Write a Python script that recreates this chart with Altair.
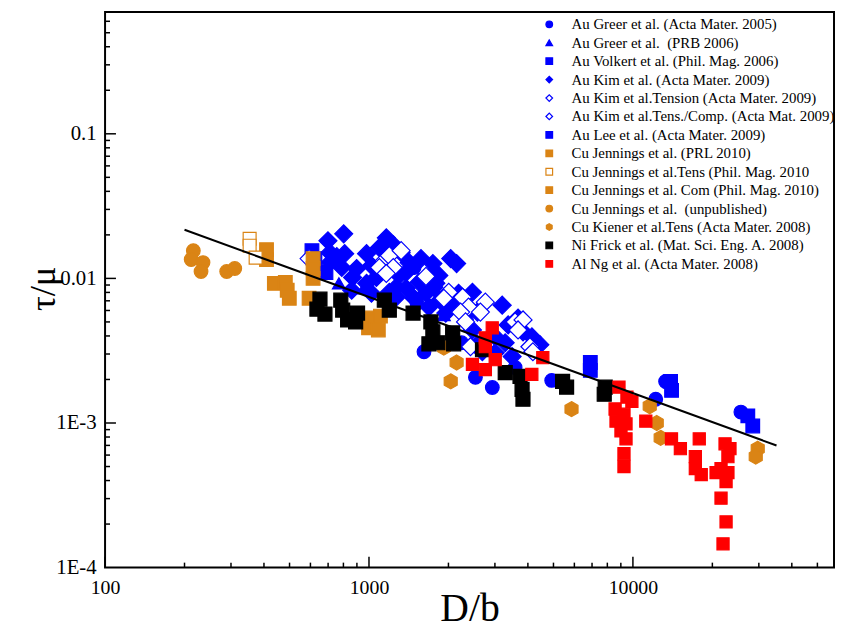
import altair as alt
import pandas as pd

BLUE = "#0000FF"
ORANGE = "#DA8415"
BLACK = "#000000"
RED = "#FF0000"
WHITE = "#FFFFFF"
HEX = "M0,-1L0.866,-0.5L0.866,0.5L0,1L-0.866,0.5L-0.866,-0.5Z"
NB = "\u00a0"

names = [
    "Au Greer et al. (Acta Mater. 2005)",
    "Au Greer et al." + NB + " (PRB 2006)",
    "Au Volkert et al. (Phil. Mag. 2006)",
    "Au Kim et al. (Acta Mater. 2009)",
    "Au Kim et al.Tension (Acta Mater. 2009)",
    "Au Kim et al.Tens./Comp. (Acta Mat. 2009)",
    "Au Lee et al. (Acta Mater. 2009)",
    NB + "Cu Jennings et al. (PRL 2010)",
    NB + "Cu Jennings et al.Tens (Phil. Mag. 2010",
    NB + "Cu Jennings et al. Com (Phil. Mag. 2010)",
    NB + "Cu Jennings et al." + NB + " (unpublished)",
    "Cu Kiener et al.Tens (Acta Mater. 2008)",
    "Ni Frick et al. (Mat. Sci. Eng. A. 2008)",
    "Al Ng et al. (Acta Mater. 2008)",
]
shapes = ["circle", "triangle-up", "square", "diamond", "diamond", "diamond", "square",
          "square", "square", "square", "circle", HEX, "square", "square"]
fills = [BLUE, BLUE, BLUE, BLUE, WHITE, WHITE, BLUE,
         ORANGE, WHITE, ORANGE, ORANGE, ORANGE, BLACK, RED]
strokes = [BLUE] * 7 + [ORANGE] * 5 + [BLACK, RED]
sizes = [190, 170, 190, 330, 330, 330, 190, 190, 170, 190, 190, 230, 200, 150]

# ---- data (D/b, tau/mu) ----
greer05_D = [1482, 1521, 2342, 2243, 2531, 2933, 3578, 4924, 12200, 13300, 25650, 1616]
greer05_t = [0.01189, 0.00674, 0.00516, 0.00359, 0.00207, 0.00176, 0.00242, 0.00197,
             0.00146, 0.00194, 0.00119, 0.00311]

greer06_D = [769, 954, 1921]
greer06_t = [0.00924, 0.00854, 0.00558]

volkert_D = [608, 624, 687]
volkert_t = [0.01555, 0.01371, 0.01099]

kim_D = [699, 802, 711, 755, 809, 711, 789, 867, 898, 979, 1022, 979, 1067, 1095, 1163,
         1236, 1301, 1268, 1194, 1382, 1574, 1746, 1687, 1547, 1644, 1792, 1855, 1419,
         1324, 1382, 860, 1022, 1268, 1482, 1839, 1762, 1954, 1687, 2186, 2466, 3197,
         2575, 2466, 3009, 3281, 3486, 3671, 3834, 4143, 3009, 2575, 2689, 3368, 4440,
         2130, 2040, 2148]
kim_t = [0.01821, 0.02033, 0.01507, 0.01415, 0.01483, 0.01287, 0.01189, 0.01016, 0.01171,
         0.01483, 0.01227, 0.00924, 0.01016, 0.01631, 0.01909, 0.01709, 0.01048, 0.00868,
         0.00802, 0.00854, 0.01371, 0.01266, 0.01016, 0.00939, 0.00789, 0.00924, 0.00707,
         0.01287, 0.01507, 0.01099, 0.00828, 0.00789, 0.00741, 0.00729, 0.01048, 0.00868,
         0.00576, 0.00633, 0.00789, 0.00802, 0.00653, 0.00585, 0.00440, 0.00394, 0.00359,
         0.00288, 0.00532, 0.00427, 0.00394, 0.00306, 0.00348, 0.00311, 0.00477, 0.00348,
         0.00653, 0.01371, 0.01266]

kimT_D = [1143, 1194, 1095, 1236, 1163, 593, 1324, 1644]
kimT_t = [0.01328, 0.01437, 0.01189, 0.01189, 0.01082, 0.01371, 0.01555, 0.01032]

kimTC_D = [2005, 1921, 2263, 2383, 2760, 2643, 2224, 2322, 3578, 3834, 3671, 4072, 4178, 2424]
kimTC_t = [0.00802, 0.00729, 0.00741, 0.00633, 0.00685, 0.00585, 0.00585, 0.00500, 0.00500,
           0.00516, 0.00440, 0.00337, 0.00311, 0.00337]

lee_D = [6896, 6896, 13890, 14010, 27250, 28450]
lee_t = [0.00262, 0.00231, 0.00194, 0.00168, 0.00112, 0.000954]

jprl_D = [409, 409, 614, 614, 614, 593]
jprl_t = [0.0158, 0.01349, 0.01371, 0.01171, 0.0100, 0.00729]

jtens_D = [353, 353, 372]
jtens_t = [0.01879, 0.01683, 0.01392]

jcom_D = [438, 482, 490, 499, 979, 996, 1049, 1085, 1105]
jcom_t = [0.00924, 0.00939, 0.00828, 0.00729, 0.00532, 0.00455, 0.00500, 0.00440, 0.00549]

junp_D = [216, 212, 235, 231, 289, 310]
junp_t = [0.01555, 0.01349, 0.01287, 0.01117, 0.01117, 0.01171]

kiener_D = [2040, 2148, 1921, 5853, 11580, 12310, 12740, 29710, 29200]
kiener_t = [0.00194, 0.00262, 0.00332, 0.001247, 0.001307, 0.00100, 0.000789, 0.000664, 0.000585]

frick_D = [652, 635, 681, 782, 795, 830, 905, 890, 1143, 1194, 1469, 1716, 1746, 1687, 1824,
           2075, 2093, 2692, 3283, 3735, 3802, 3832, 5415, 5607, 7853, 7786]
frick_t = [0.00718, 0.00613, 0.00567, 0.00707, 0.00604, 0.00516, 0.00576, 0.00500, 0.00707,
           0.00604, 0.00576, 0.00500, 0.00427, 0.00353, 0.00359, 0.00420, 0.00353, 0.00321,
           0.00223, 0.00210, 0.00171, 0.00146, 0.00194, 0.00177, 0.00177, 0.00158]

ng_D = [2931, 2760, 2760, 3008, 2466, 2760, 4556, 4140, 8855, 9494, 9911, 8560, 9250, 8630,
        9415, 9011, 9415, 9250, 9250, 11190, 14000, 15130, 17840, 17240, 17240, 18150, 20660,
        22340, 23320, 22910, 21570, 22910, 22540, 21570, 22540, 21950]
ng_t = [0.00455, 0.00388, 0.00337, 0.00274, 0.00254, 0.00234, 0.00283, 0.00217, 0.00177,
        0.00151, 0.00141, 0.00125, 0.00115, 0.00103, 0.000985, 0.000882, 0.000777, 0.000613,
        0.000500, 0.00103, 0.000777, 0.000664, 0.000777, 0.000585, 0.000484, 0.000440,
        0.000454, 0.000718, 0.000664, 0.000585, 0.000484, 0.000454, 0.000394, 0.000302,
        0.000207, 0.000146]

fit_D = [200, 35000]
fit_t = [0.0217, 0.000699]

x_major = [100, 1000, 10000]
x_minor = [200, 300, 400, 500, 600, 700, 800, 900, 2000, 3000, 4000, 5000, 6000, 7000, 8000,
           9000, 20000, 30000, 40000, 50000]
y_major = [0.001, 0.01, 0.1]
y_minor = [0.0002, 0.0003, 0.0004, 0.0005, 0.0006, 0.0007, 0.0008, 0.0009,
           0.002, 0.003, 0.004, 0.005, 0.006, 0.007, 0.008, 0.009,
           0.02, 0.03, 0.04, 0.05, 0.06, 0.07, 0.08, 0.09, 0.2, 0.3, 0.4, 0.5, 0.6]

series_data = [
    (greer05_D, greer05_t), (greer06_D, greer06_t), (volkert_D, volkert_t), (kim_D, kim_t),
    (kimT_D, kimT_t), (kimTC_D, kimTC_t), (lee_D, lee_t), (jprl_D, jprl_t),
    (jtens_D, jtens_t), (jcom_D, jcom_t), (junp_D, junp_t), (kiener_D, kiener_t),
    (frick_D, frick_t), (ng_D, ng_t),
]
rows = []
for name, sz, (ds, ts) in zip(names, sizes, series_data):
    for d, t in zip(ds, ts):
        rows.append({"D": d, "tau": t, "series": name, "sz": sz})
df = pd.DataFrame(rows)

W, H = 736, 561
FONT = "Liberation Serif"

xscale = alt.Scale(type="log", domain=[100, 57800], nice=False)
yscale = alt.Scale(type="log", domain=[0.0001, 0.696], nice=False)
xaxis = alt.Axis(values=x_major, format="d", ticks=False, tickSize=0, domain=False, grid=False,
                 labelFont=FONT, labelFontSize=20, labelColor="black", labelPadding=10,
                 labelFlush=False, title="D/b", titleFont=FONT, titleFontSize=40,
                 titleFontWeight="normal", titleColor="black", titleX=368, titleY=41,
                 titleBaseline="middle")
yaxis = alt.Axis(values=[0.0001, 0.001, 0.01, 0.1],
                 labelExpr="datum.value > 0.05 ? '0.1' : datum.value > 0.005 ? '0.01' : datum.value > 0.0005 ? '1E-3' : '1E-4'",
                 ticks=False, tickSize=0, domain=False, grid=False,
                 labelFont=FONT, labelFontSize=21, labelColor="black", labelPadding=9,
                 labelFlush=False, title="τ/μ", titleFont=FONT, titleFontSize=37,
                 titleFontWeight="normal", titleColor="black", titleX=-62, titleY=279,
                 titleBaseline="middle")

X = alt.X("D:Q", scale=xscale, axis=xaxis)
Y = alt.Y("tau:Q", scale=yscale, axis=yaxis)

LEG = alt.Legend(title=None, orient="none", legendX=441, legendY=5)

points = alt.Chart(df).mark_point(filled=True, opacity=1, strokeWidth=1.2).encode(
    x=X, y=Y,
    shape=alt.Shape("series:N", scale=alt.Scale(domain=names, range=shapes), legend=LEG),
    fill=alt.Fill("series:N", scale=alt.Scale(domain=names, range=fills), legend=LEG),
    stroke=alt.Stroke("series:N", scale=alt.Scale(domain=names, range=strokes), legend=LEG),
    size=alt.Size("sz:Q", scale=None),
)

fit = alt.Chart(pd.DataFrame({"D": fit_D, "tau": fit_t})).mark_line(
    color="black", strokeWidth=2).encode(x=X, y=Y)

xmaj = alt.Chart(pd.DataFrame({"D": x_major})).mark_rule(color="black", strokeWidth=1.5).encode(
    x=X, y=alt.value(H - 11), y2=alt.value(H))
xmin = alt.Chart(pd.DataFrame({"D": x_minor})).mark_rule(color="black", strokeWidth=1.5).encode(
    x=X, y=alt.value(H - 5), y2=alt.value(H))
ymaj = alt.Chart(pd.DataFrame({"tau": y_major})).mark_rule(color="black", strokeWidth=1.5).encode(
    y=Y, x=alt.value(0), x2=alt.value(11))
ymin = alt.Chart(pd.DataFrame({"tau": y_minor})).mark_rule(color="black", strokeWidth=1.5).encode(
    y=Y, x=alt.value(0), x2=alt.value(5))

chart = alt.layer(xmaj, xmin, ymaj, ymin, points, fit).properties(
    width=W, height=H,
    autosize=alt.AutoSizeParams(type="none"),
    padding={"left": 98, "top": 1, "right": 1, "bottom": 60},
    background="white",
).configure(
    font=FONT,
    view=alt.ViewConfig(stroke="black", strokeWidth=2),
    legend=alt.LegendConfig(padding=0, labelFont=FONT, labelFontSize=15, labelColor="black",
                            labelLimit=400, symbolSize=45, symbolStrokeWidth=1.2,
                            rowPadding=2.6, labelOffset=15),
)

chart.save("out.html", embed_options={"renderer": "svg", "actions": False})
